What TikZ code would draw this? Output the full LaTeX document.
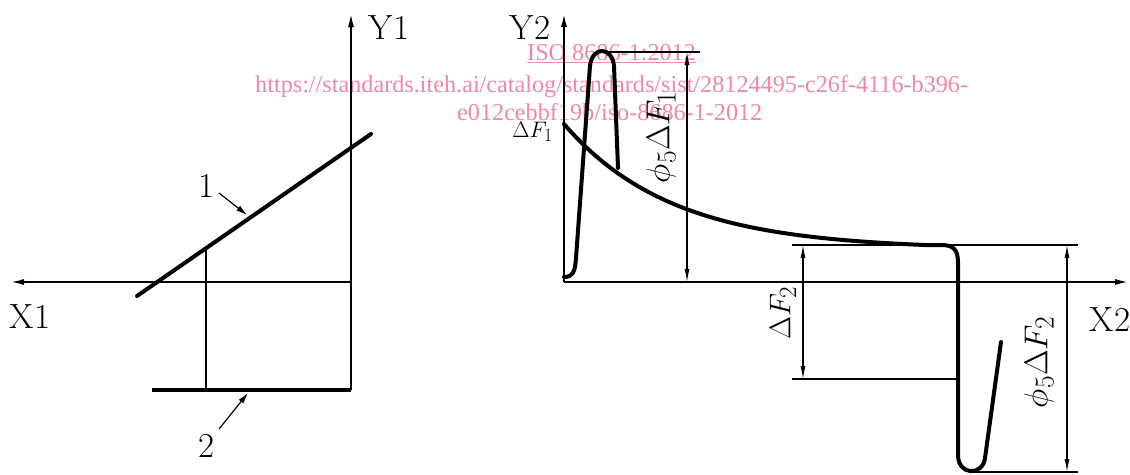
\documentclass[tikz,border=0pt]{standalone}
\usepackage{graphicx}
\usepackage{fontspec}
\newfontfamily\wmfont{Liberation Serif}
\usetikzlibrary{arrows.meta}
\definecolor{wmpink}{RGB}{240,135,165}
\newcommand{\bigmath}[2]{\scalebox{#1}{\Huge$#2$}}
\tikzset{
  axisline/.style={line width=2pt, -{Latex[length=14pt,width=6pt]}},
  curve/.style={line width=4pt, line cap=round, line join=round},
  thinline/.style={line width=1.1pt},
  dimline/.style={line width=1.1pt, {Latex[length=13pt,width=5pt]}-{Latex[length=13pt,width=5pt]}},
  leadline/.style={line width=1.2pt, -{Latex[length=11pt,width=6pt]}},
  lbl/.style={font=\fontsize{35}{40}\selectfont, inner sep=0pt},
  mlbl/.style={inner sep=0pt},
  wm/.style={font=\wmfont\fontsize{24.2}{28}\selectfont, text=wmpink, inner sep=0pt, anchor=base west}
}
\begin{document}
\begin{tikzpicture}[x=1pt,y=-1pt]
\useasboundingbox (0,0) rectangle (1130,474);
% watermark
\node[wm] (wm1) at (527,60) {\underline{ISO 8686-1:2012}};
\node[wm] (wm2) at (255,92) {https://standards.iteh.ai/catalog/standards/sist/28124495-c26f-4116-b396-};
\node[wm] (wm3) at (457,120) {e012cebbf19b/iso-8686-1-2012};
% ---------- left diagram ----------
\coordinate (O1) at (351,282);
\coordinate (Y1top) at (351,13);
\coordinate (Y1bot) at (351,390);
\coordinate (X1end) at (10,282);
\draw[axisline] (Y1bot) -- (Y1top);
\draw[axisline] (O1) -- (X1end);
\coordinate (L1a) at (137,296);
\coordinate (L1b) at (371,134);
\draw[curve] (L1a) -- (L1b);
\coordinate (L2a) at (152,390);
\draw[curve, line cap=butt] (L2a) -- (Y1bot);
\coordinate (P1) at (206,248);
\coordinate (P1b) at (206,390);
\draw[thinline] (P1) -- (P1b);
\node[lbl] (Y1) at (389,28) {Y1};
\node[lbl] (X1) at (30,317) {X1};
\node[lbl] (n1) at (207,186) {1};
\coordinate (n1t) at (219,193);
\coordinate (n1h) at (247,215);
\draw[leadline] (n1t) -- (n1h);
\node[lbl] (n2) at (207,446) {2};
\coordinate (n2t) at (219,429);
\coordinate (n2h) at (248,393);
\draw[leadline] (n2t) -- (n2h);
% ---------- right diagram ----------
\coordinate (O2) at (564,282);
\coordinate (Y2top) at (564,13);
\coordinate (X2end) at (1129,282);
\draw[axisline] (O2) -- (Y2top);
\draw[axisline] (O2) -- (X2end);
\node[lbl] (Y2) at (530,28) {Y2};
\node[lbl] (X2) at (1110,320) {X2};
% main curve
\draw[curve] plot[domain=564:925, samples=80]
  (\x, {245-121*(exp(-(\x-564)/108)-0.0354)/(1-0.0354)})
  -- (941,245) .. controls (954,245) and (958,250) .. (958,263)
  -- (958,455) .. controls (958,476) and (983,476) .. (985,458)
  -- (1001,342);
% pulse
\draw[curve] (564,277) .. controls (573,277) and (575,272) .. (576,258) -- (590,66)
  .. controls (592,46) and (612,46) .. (614,66) -- (618,168);
% dimension phi5 dF1
\coordinate (T1a) at (602,52);
\coordinate (T1b) at (700,52);
\draw[thinline] (T1a) -- (T1b);
\coordinate (D1a) at (687,52);
\coordinate (D1b) at (687,282);
\draw[dimline] (D1a) -- (D1b);
\node[mlbl, rotate=90] (phi1) at (661,137) {\bigmath{1.33}{\phi_5\Delta F_1}};
\node[mlbl, anchor=base east] (dF1) at (553,137) {\bigmath{0.9}{\Delta F_1}};
% dimension dF2
\coordinate (T2a) at (792,245);
\coordinate (T2b) at (1078,245);
\draw[thinline] (T2a) -- (T2b);
\coordinate (T3a) at (792,379);
\coordinate (T3b) at (958,379);
\draw[thinline] (T3a) -- (T3b);
\coordinate (T4a) at (971,472);
\coordinate (T4b) at (1078,472);
\draw[thinline] (T4a) -- (T4b);
\coordinate (D2a) at (803,245);
\coordinate (D2b) at (803,379);
\draw[dimline] (D2a) -- (D2b);
\node[mlbl, rotate=90] (dF2) at (783,313) {\bigmath{1.2}{\Delta F_2}};
\coordinate (D3a) at (1067,245);
\coordinate (D3b) at (1067,472);
\draw[dimline] (D3a) -- (D3b);
\node[mlbl, rotate=90] (phi2) at (1039,362) {\bigmath{1.33}{\phi_5\Delta F_2}};
\end{tikzpicture}
\end{document}
